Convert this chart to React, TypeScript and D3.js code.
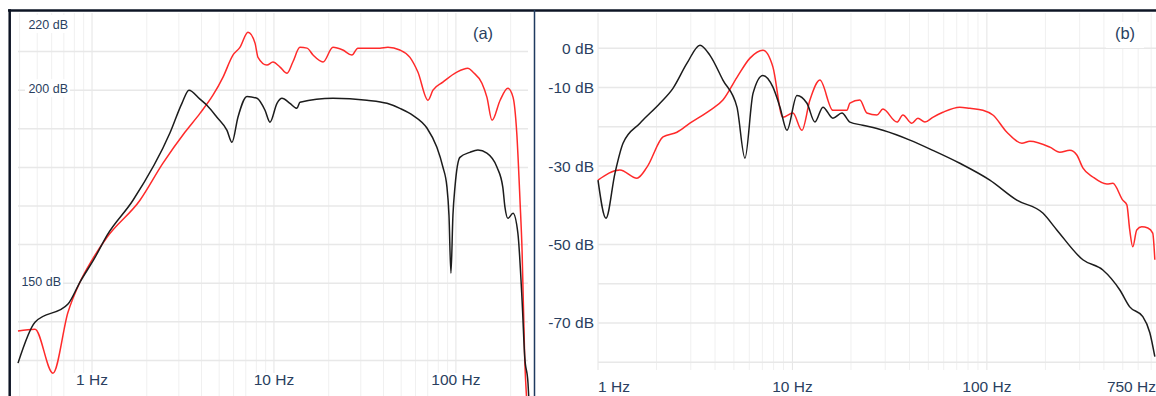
import React from "react";
import { scaleLog, scaleLinear, line, curveMonotoneX, range } from "d3";

// panel (a): [frequency Hz, level dB]
const aBlack: [number, number][] = [
  [0.392, 129.3], [0.486, 139.9], [0.738, 144.6], [0.859, 150.3], [1.039, 156.7],
  [1.209, 162.4], [1.68, 171.5], [2.68, 188.9], [3.12, 196.6], [3.41, 200],
  [3.92, 197.7], [4.28, 196.1], [4.86, 193], [5.52, 189.6], [5.88, 186.5],
  [6.34, 193], [7.11, 198.4], [8.07, 197.9], [8.93, 194.8], [9.51, 191.7],
  [10.39, 196.6], [11.07, 197.9], [12.24, 196.6], [13.37, 195.3], [13.9, 196.9],
  [21.1, 197.9], [32.4, 197.4], [41.8, 196.6], [49.2, 195.3], [58, 193.5],
  [69.3, 190.2], [78.6, 185.2], [84.8, 180.1], [89.3, 174.9], [91.6, 167.6],
  [93.9, 152.6], [96.3, 167.6], [98.8, 174.9], [105.2, 182.6], [119.4, 183.9],
  [132.1, 184.5], [148, 183.7], [168, 180.1], [181, 174.9], [186, 169.7],
  [193, 166.8], [206, 168.1], [219, 163], [231, 145.6], [239, 130.8],
  [249, 124.1], [252, 119.7]
];
const aRed: [number, number][] = [
  [0.392, 137.6], [0.486, 138.1], [0.61, 126.7], [0.738, 142.5], [0.859, 150.3],
  [1.0, 156], [1.209, 161.9], [1.835, 171.5], [2.455, 181.1], [3.24, 189.1],
  [3.92, 194], [4.62, 198.7], [5.25, 203.4], [5.95, 209.1], [6.5, 211.1],
  [7.2, 215], [7.87, 212.2], [8.17, 208.5], [9.15, 206.5], [9.87, 207.3],
  [10.8, 206], [11.8, 204.4], [12.7, 207.3], [13.9, 211.1], [15.2, 210.9],
  [16.4, 209.1], [18.6, 207.3], [21.1, 211.1], [23.9, 210.4], [26.8, 209.1],
  [28.9, 210.9], [32.4, 210.9], [38.2, 210.9], [42.3, 211.1], [49.2, 210.4],
  [55.9, 208.5], [61.8, 204.7], [70.2, 197.4], [74.8, 200], [84.8, 202.1],
  [101.2, 204.7], [116.4, 205.7], [124, 204.7], [139, 201.8], [148, 198.2],
  [158, 192.2], [175, 197.4], [193, 200.5], [206, 198.2], [216, 188.9],
  [225, 171.5], [231, 158.5], [239, 130], [245, 119.7]
];

// panel (b): [frequency Hz, level dB]
const bBlack: [number, number][] = [
  [1.0, -33.6], [1.099, -43.3], [1.223, -31.8], [1.345, -24.2], [1.644, -19.1],
  [2.083, -14.0], [2.43, -10.2], [2.87, -3.8], [3.346, 0.8], [3.766, -1.8],
  [4.39, -8.1], [5.185, -15.0], [5.7, -28.0], [6.27, -11.5], [7.05, -6.9],
  [7.94, -9.9], [8.63, -15.0], [9.37, -20.9], [10.55, -12.0], [11.88, -14.0],
  [13.05, -18.8], [14.35, -15.0], [16.15, -17.8], [17.97, -16.5], [19.75, -18.8],
  [23.0, -19.6], [29.2, -20.9], [40.2, -23.4], [52.7, -26.0], [72.6, -29.3],
  [103.6, -33.6], [142.6, -38.7], [194, -42.0], [229, -46.3], [311.7, -53.9],
  [395, -56.5], [483, -61.6], [543, -65.9], [634, -68.4], [689, -72.5],
  [731, -78.6]
];
const bRed: [number, number][] = [
  [1.0, -33.6], [1.297, -31.0], [1.587, -33.1], [1.786, -30.3], [2.16, -22.6],
  [2.547, -21.4], [2.97, -19.1], [3.766, -15.8], [4.39, -13.2], [5.185, -7.4],
  [6.05, -2.5], [7.05, -0.5], [7.94, -4.8], [8.93, -17.6], [10.06, -16.5],
  [11.19, -20.9], [12.3, -13.2], [13.85, -8.1], [16.15, -15.8], [19.06, -15.8],
  [19.75, -14.0], [22.23, -13.2], [24.15, -16.5], [27.2, -17.0], [29.2, -15.5],
  [34.5, -18.8], [37.0, -17.0], [41.1, -19.1], [44.2, -17.8], [48.0, -18.8],
  [52.7, -17.6], [59.4, -16.3], [72.6, -15.0], [81.8, -15.3], [95.4, -15.8],
  [107.4, -17.0], [126.8, -21.4], [151.4, -24.2], [166.4, -23.7], [210.8, -25.2],
  [237.3, -26.5], [267.2, -26.0], [290.2, -27.2], [311.7, -30.5], [350.8, -32.8],
  [414, -34.6], [444.6, -34.4], [500, -38.7], [524.8, -39.9], [543, -46.3],
  [563, -50.6], [590, -46.3], [626, -45.5], [673, -45.8], [713, -47.1],
  [731, -53.9]
];

const aYTicks = [220, 200, 150];
const aXTicks = [1, 10, 100];
const bYTicks = [0, -10, -30, -50, -70];
const bXTicks = [1, 10, 100, 750];

const W = 1156, H = 396;
const textColor = "#2a3f5f";
const font = "Liberation Sans, Arial, sans-serif";

function minorFreqs(lo: number, hi: number) {
  const out: number[] = [];
  for (let d = 0.1; d <= 1000; d *= 10) {
    for (let k = 1; k < 10; k++) {
      const f = +(d * k).toPrecision(3);
      if (f >= lo && f <= hi) out.push(f);
    }
  }
  return out;
}

function isDecade(f: number) {
  return Math.abs(Math.log10(f) - Math.round(Math.log10(f))) < 1e-6;
}

export default function App() {
  // panel (a)
  const xA = scaleLog().domain([0.392, 249]).range([18, 528]);
  const yA = scaleLinear().domain([220, 127]).range([13, 372]);
  // panel (b)
  const xB = scaleLog().domain([1, 750]).range([598, 1157]);
  const yB = scaleLinear().domain([9, -82]).range([13, 370]);

  const lineA = line<[number, number]>()
    .x(d => xA(d[0]))
    .y(d => yA(d[1]))
    .curve(curveMonotoneX);
  const lineB = line<[number, number]>()
    .x(d => xB(d[0]))
    .y(d => yB(d[1]))
    .curve(curveMonotoneX);

  const aGridY = range(130, 220, 10);
  const bGridY = range(0, -90, -10);

  return (
    <svg
      width={W}
      height={H}
      style={{ position: "absolute", left: 0, top: 0, background: "#fff" }}
    >
      {/* panel (a) grid */}
      <g>
        {minorFreqs(0.39, 250).map(f => (
          <line
            key={"av" + f}
            x1={xA(f)} x2={xA(f)} y1={13} y2={H}
            stroke={isDecade(f) ? "#e4e4e4" : "#f0f0f0"}
            strokeWidth={1}
          />
        ))}
        {aGridY.map(v => (
          <line
            key={"ah" + v}
            x1={18} x2={528} y1={yA(v)} y2={yA(v)}
            stroke="#e8e8e8" strokeWidth={1.5}
          />
        ))}
      </g>

      {/* panel (b) grid */}
      <g>
        {minorFreqs(1, 750).map(f => (
          <line
            key={"bv" + f}
            x1={xB(f)} x2={xB(f)} y1={13} y2={370}
            stroke={isDecade(f) ? "#e4e4e4" : "#f0f0f0"}
            strokeWidth={1}
          />
        ))}
        {bGridY.map(v => (
          <line
            key={"bh" + v}
            x1={598} x2={W} y1={yB(v)} y2={yB(v)}
            stroke="#e8e8e8" strokeWidth={1.5}
          />
        ))}
      </g>

      {/* tick labels (a) */}
      {aYTicks.map(v => {
        const cy = Math.max(yA(v) - 2, 24);
        const xr = v === 150 ? 61 : 68;
        return (
          <g key={"ayl" + v}>
            <rect x={xr - 43} y={cy - 9} width={45} height={18} fill="#fff" />
            <text x={xr} y={cy + 4.5} textAnchor="end" fontSize={12.5}
              fontFamily={font} fill={textColor}>{v} dB</text>
          </g>
        );
      })}
      {aXTicks.map(f => (
        <g key={"axl" + f}>
          <rect x={xA(f) - 27} y={373} width={54} height={23} fill="#fff" />
          <text x={xA(f)} y={385} textAnchor="middle" fontSize={15.5}
            fontFamily={font} fill={textColor}>{f} Hz</text>
        </g>
      ))}

      {/* tick labels (b) */}
      {bYTicks.map(v => (
        <text key={"byl" + v} x={594} y={yB(v) + 5.5} textAnchor="end"
          fontSize={15.5} fontFamily={font} fill={textColor}>{v} dB</text>
      ))}
      {bXTicks.map(f => {
        const anchor = f === 1 ? "start" : f === 750 ? "end" : "middle";
        const x = f === 750 ? W : xB(f);
        return (
          <text key={"bxl" + f} x={x} y={392} textAnchor={anchor}
            fontSize={15.5} fontFamily={font} fill={textColor}>{f} Hz</text>
        );
      })}

      {/* curves */}
      <path d={lineA(aRed) || ""} fill="none" stroke="#ff2a2a" strokeWidth={1.5} />
      <path d={lineA(aBlack) || ""} fill="none" stroke="#1c1c1c" strokeWidth={1.5} />
      <path d={lineB(bRed) || ""} fill="none" stroke="#ff2a2a" strokeWidth={1.5} />
      <path d={lineB(bBlack) || ""} fill="none" stroke="#1c1c1c" strokeWidth={1.5} />

      {/* panel letters */}
      <rect x={466} y={22} width={36} height={24} fill="#fff" />
      <text x={483} y={39} textAnchor="middle" fontSize={16.5}
        fontFamily={font} fill={textColor}>(a)</text>
      <rect x={1106} y={22} width={38} height={26} fill="#fff" />
      <text x={1125} y={39} textAnchor="middle" fontSize={16.5}
        fontFamily={font} fill={textColor}>(b)</text>

      {/* frame */}
      <line x1={8} x2={W} y1={10.5} y2={10.5} stroke="#0d1424" strokeWidth={2.5} />
      <line x1={9.7} x2={9.7} y1={9.3} y2={H} stroke="#0d1424" strokeWidth={2.5} />
      <line x1={534.5} x2={534.5} y1={10} y2={H} stroke="#1f3a5f" strokeWidth={1.5} />
    </svg>
  );
}
